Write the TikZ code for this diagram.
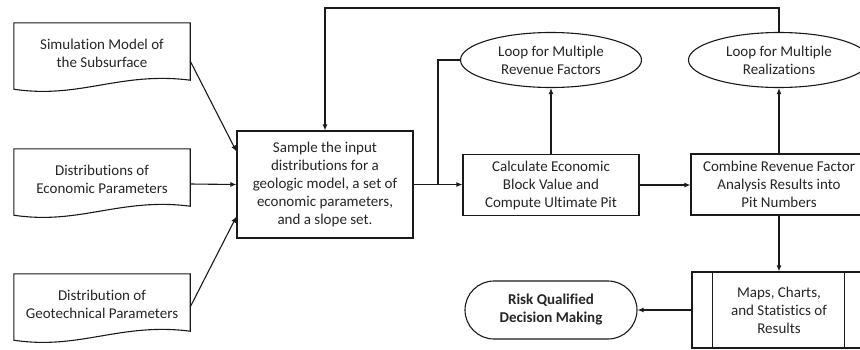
\documentclass[tikz,border=0pt]{standalone}
\usepackage{fontspec}
\setmainfont{Carlito}[Ligatures=CommonOff]
\usetikzlibrary{arrows.meta,shapes.geometric}
\definecolor{ln}{HTML}{1A1A1A}
\definecolor{tx}{HTML}{262626}
\tikzset{
  base/.style={font=\fontsize{15}{18}\selectfont, text=tx, align=center, inner sep=0pt},
  docbox/.style={base, draw=none, minimum width=176pt, minimum height=60pt},
  procbox/.style={base, draw=ln, line width=1.1pt, minimum width=176pt},
  loopell/.style={base, ellipse, draw=ln, line width=1.1pt, minimum width=181pt, minimum height=55pt},
  docshape/.style={draw=ln, line width=1.1pt},
  arr/.style={draw=ln, line width=1.1pt, -{Latex[length=6pt,width=5pt]}},
  plain/.style={draw=ln, line width=1.1pt},
}
\begin{document}
\begin{tikzpicture}[x=1pt,y=-1pt]
\useasboundingbox (0,0) rectangle (860,349);
\clip (0,0) rectangle (860,349);
\fill[white] (0,0) rectangle (860,349);

% document shaped inputs
\node[docbox] (d1) at (102,53) {Simulation Model of\\the Subsurface};
\node[docbox] (d2) at (102,179) {Distributions of\\Economic Parameters};
\node[docbox] (d3) at (102,304) {Distribution of\\Geotechnical Parameters};
\foreach \d in {d1,d2,d3}{
  \draw[docshape] (\d.north west) -- (\d.north east) -- ([yshift=3pt]\d.south east)
    .. controls ([xshift=-70pt,yshift=12pt]\d.south east) and ([xshift=66pt,yshift=-16pt]\d.south west)
    .. ([yshift=-6pt]\d.south west) -- cycle;
}

% process boxes
\node[procbox, minimum height=107pt] (s) at (325,184.5)
  {Sample the input\\distributions for a\\geologic model, a set of\\economic parameters,\\and a slope set.};
\node[procbox, minimum height=61pt] (c) at (551,185)
  {Calculate Economic\\Block Value and\\Compute Ultimate Pit};
\node[procbox, minimum height=61pt] (cb) at (779,184.5)
  {Combine Revenue Factor\\Analysis Results into\\Pit Numbers};

% loop ellipses
\node[loopell] (e1) at (551,60) {Loop for Multiple\\Revenue Factors};
\node[loopell] (e2) at (779,60) {Loop for Multiple\\Realizations};

% predefined process
\node[procbox, minimum width=174pt, minimum height=76pt] (m) at (779,310)
  {Maps, Charts,\\and Statistics of\\Results};
\draw[plain] ([xshift=21pt]m.north west) -- ([xshift=21pt]m.south west);
\draw[plain] ([xshift=-22pt]m.north east) -- ([xshift=-22pt]m.south east);

% terminator
\node[base, draw=ln, line width=1.1pt, rounded corners=29pt, minimum width=172pt, minimum height=58pt,
  font=\fontsize{15}{18}\selectfont\bfseries] (r) at (551,310) {Risk Qualified\\Decision Making};

% connectors
\draw[arr] ([yshift=-8pt]d1.east) -- ([yshift=33pt]s.west);
\draw[arr] ([yshift=-5pt]d2.east) -- (s.west);
\draw[arr] ([yshift=-3pt]d3.east) -- ([yshift=-32pt]s.west);

\coordinate (j) at (438,184.5);
\draw[arr] (s.east) -- (s.east -| c.west);
\draw[plain] (j) |- (e1.west);
\draw[arr] (c.north) -- (e1.south);
\draw[arr] (c.east) -- (c.east -| cb.west);
\draw[arr] (cb.north) -- (e2.south);
\coordinate (fb) at (325,8);
\draw[arr] (e2.north) |- (fb) -- (s.north);
\draw[arr] (cb.south) -- (m.north);
\draw[arr] (m.west) -- (r.east);
\end{tikzpicture}
\end{document}
